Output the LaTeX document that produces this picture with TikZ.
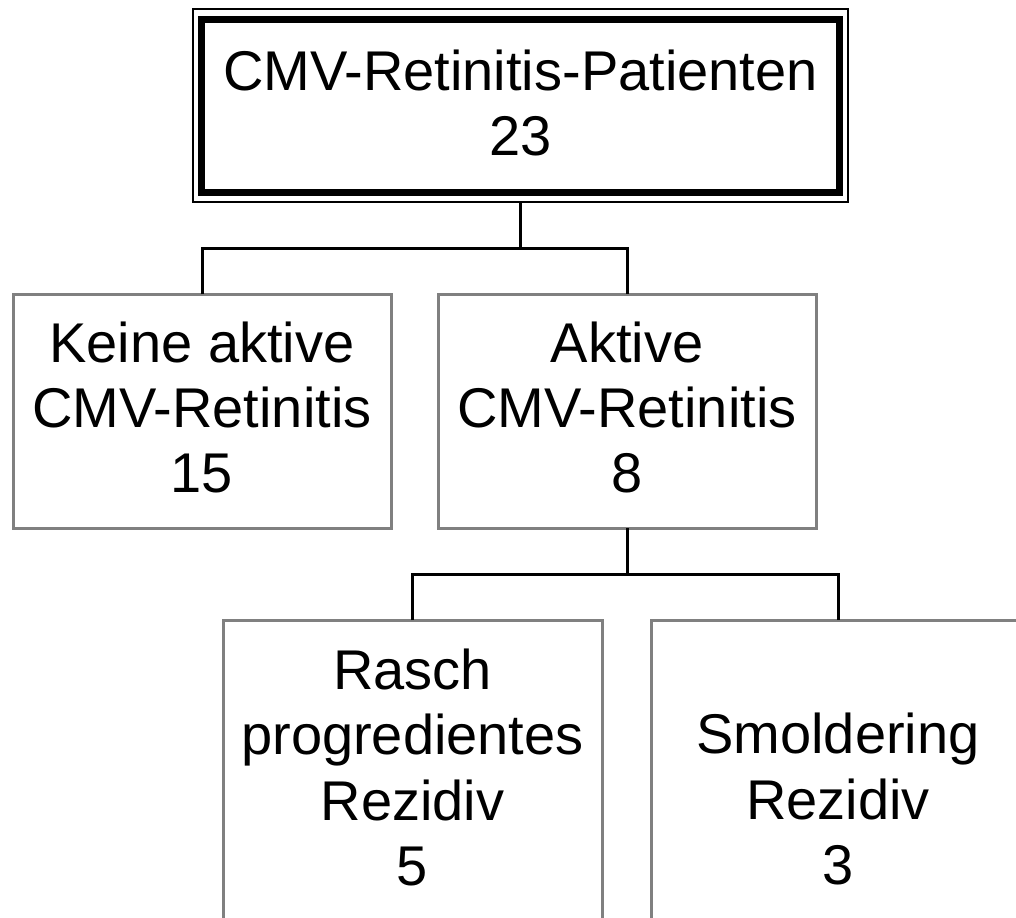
\documentclass[tikz,border=0pt]{standalone}
\usepackage{fontspec}
\setmainfont{Liberation Sans}
\begin{document}
\begin{tikzpicture}[x=0.75pt,y=-0.75pt,
  box/.style={draw=boxgray, line width=3*0.75pt, rectangle, inner sep=0pt, outer sep=0pt},
  link/.style={draw=black, line width=3*0.75pt},
  label/.style={align=center, inner sep=0pt, font=\fontsize{42pt}{49.1pt}\selectfont}]
\definecolor{boxgray}{RGB}{128,128,128}
\useasboundingbox (0,0) rectangle (1016,917);
\fill[white] (0,0) rectangle (1016,917);
\clip (0,0) rectangle (1016,917);

% root box with thin outer frame and thick inner frame
\node[draw=black, line width=2*0.75pt, rectangle, inner sep=0pt, outer sep=0pt,
      minimum width=655*0.75pt, minimum height=192.5*0.75pt] (top) at (520.5,105.75) {};
\node[draw=black, line width=7*0.75pt, rectangle, inner sep=0pt,
      minimum width=638*0.75pt, minimum height=172.5*0.75pt] (topin) at (520,106.25) {};
\node[label] (topT) at (520.5,102.75) {CMV-Retinitis-Patienten\\23};

% second level
\node[box, minimum width=378*0.75pt, minimum height=234*0.75pt] (keine) at (202,411) {};
\node[label] (keineT) at (202,407.5) {Keine aktive\\CMV-Retinitis\\15};
\node[box, minimum width=378*0.75pt, minimum height=234*0.75pt] (aktive) at (627,411) {};
\node[label] (aktiveT) at (627,407.5) {Aktive\\CMV-Retinitis\\8};

% third level (boxes run past the lower edge)
\node[box, minimum width=379*0.75pt, minimum height=340*0.75pt] (rasch) at (412.5,790) {};
\node[label] (raschT) at (412.5,767.5) {Rasch\\progredientes\\Rezidiv\\5};
\node[box, minimum width=374*0.75pt, minimum height=340*0.75pt] (smold) at (838,790) {};
\node[label] (smoldT) at (838,799) {Smoldering\\Rezidiv\\3};

% connectors
\coordinate (j1) at (520.5,248);
\coordinate (j2) at (627,574);
\draw[link] (top.south) -- (j1);
\draw[link] (keine.north) |- (j1) -| (aktive.north);
\draw[link] (aktive.south) -- (j2);
\draw[link] (rasch.north) |- (j2) -| (smold.north);
\end{tikzpicture}
\end{document}
